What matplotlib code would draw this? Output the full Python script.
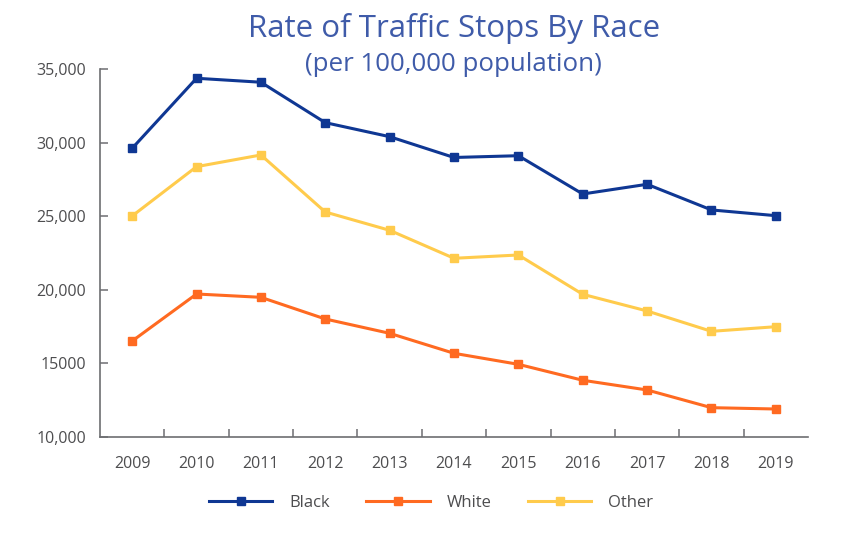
import matplotlib
matplotlib.use("Agg")
import matplotlib.pyplot as plt
from matplotlib.ticker import FixedLocator

years = ["2009", "2010", "2011", "2012", "2013", "2014", "2015", "2016", "2017", "2018", "2019"]
black = [29625, 34390, 34120, 31370, 30415, 29000, 29120, 26515, 27175, 25430, 25040]
white = [16510, 19710, 19485, 18010, 17035, 15675, 14925, 13840, 13180, 11975, 11885]
other = [25020, 28375, 29170, 25290, 24045, 22140, 22365, 19690, 18555, 17170, 17485]
y_ticks = [10000, 15000, 20000, 25000, 30000, 35000]
y_tick_labels = ["10,000", "15000", "20,000", "25,000", "30,000", "35,000"]

FONT = ["Open Sans", "DejaVu Sans"]
plt.rcParams['font.family'] = FONT

fig = plt.figure(figsize=(8.44, 5.48), dpi=100)
ax = fig.add_axes([100/844, 1-436.7/548, 708/844, (436.7-69.3)/548])

x = list(range(len(years)))
series = [("Black", black, "#0F3793"), ("White", white, "#FF6A21"), ("Other", other, "#FFCB4C")]
for name, vals, col in series:
    ax.plot(x, vals, color=col, lw=2.2, marker="s", markersize=6.3, label=name,
            markeredgecolor=col)

ax.set_xlim(-0.5, len(years) - 0.5)
ax.set_ylim(10000, 35000)
ax.set_yticks(y_ticks)
ax.set_yticklabels(y_tick_labels)
ax.set_xticks(x)
ax.set_xticklabels(years)
ax.xaxis.set_minor_locator(FixedLocator([i + 0.5 for i in range(len(years) - 1)]))

grey = "#6d6e71"
for s in ["top", "right"]:
    ax.spines[s].set_visible(False)
for s in ["left", "bottom"]:
    ax.spines[s].set_color(grey)
    ax.spines[s].set_linewidth(1.2)

ax.tick_params(axis="x", which="major", length=0, pad=14, labelsize=11.5, labelcolor="#4d4d4f")
ax.tick_params(axis="x", which="minor", length=6, direction="in", color=grey, width=1.1)
ax.tick_params(axis="y", which="major", length=6, direction="in", color=grey, width=1.1,
               pad=10, labelsize=11.5, labelcolor="#4d4d4f")

title_col = "#3F5BA9"
fig.text(454/844, 1-37/548, "Rate of Traffic Stops By Race", ha="center", va="baseline",
         fontsize=22.5, color=title_col, family=FONT)
fig.text(453.5/844, 1-71/548, "(per 100,000 population)", ha="center", va="baseline",
         fontsize=18.6, color=title_col, family=FONT)

leg = fig.legend(loc="center", bbox_to_anchor=(0.5107, 1-503/548), ncol=3, frameon=False,
                 fontsize=12, handlelength=3.8, handletextpad=1.0, columnspacing=2.2)
for t in leg.get_texts():
    t.set_color("#4d4d4f")

fig.savefig("out.png", dpi=100)
